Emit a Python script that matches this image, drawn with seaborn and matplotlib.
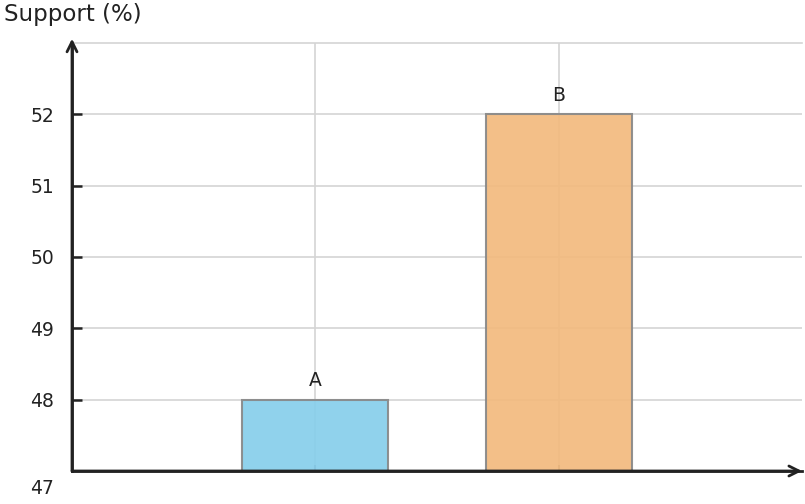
import matplotlib
matplotlib.use("Agg")
import matplotlib.pyplot as plt
import seaborn as sns
import pandas as pd

# chart data
categories = ["A", "B"]
support = [48, 52]
bar_colors = ["#87CEEB", "#F2BA7E"]
y_ticks = [48, 49, 50, 51, 52]

sns.set_theme(style="white")
plt.rcParams["font.family"] = ["DejaVu Sans"]

df = pd.DataFrame({"group": categories, "support": support})

fig = plt.figure(figsize=(8.05, 5.04), dpi=100)
ax = fig.add_axes([72 / 805, 33 / 504, 730 / 805, 428 / 504])

sns.barplot(
    data=df, x="group", y="support", hue="group", hue_order=categories,
    palette=bar_colors, saturation=1, width=0.6, alpha=0.92,
    edgecolor="#888888", linewidth=1.5, legend=False, ax=ax, zorder=2
)

ax.set_xlim(-1, 2)
ax.set_ylim(47, 53)
ax.set_yticks(y_ticks)
ax.set_xticks([0, 1])
ax.set_xticklabels(["", ""])
ax.set_xlabel("")
ax.set_ylabel("")

# grid behind the bars
ax.set_axisbelow(True)
ax.grid(True, color="#d4d4d4", linewidth=1.2)

for side in ["left", "bottom"]:
    ax.spines[side].set_color("#222222")
    ax.spines[side].set_linewidth(2)
ax.spines["top"].set_color("#d4d4d4")
ax.spines["top"].set_linewidth(1.2)
ax.spines["right"].set_visible(False)

ax.tick_params(axis="y", left=True, direction="in", length=7, width=1.8, color="#222222",
               labelsize=13.5, labelcolor="#222222", pad=13)
ax.tick_params(axis="x", bottom=True, direction="in", length=4, width=1.5, color="#777777")

# axis arrows
ax.annotate("", xy=(0, 1.01), xytext=(0, 0), xycoords="axes fraction",
            arrowprops=dict(arrowstyle="->", color="#222222", lw=2,
                            mutation_scale=18, shrinkA=0, shrinkB=0))
ax.annotate("", xy=(1.0, 0), xytext=(0, 0), xycoords="axes fraction",
            arrowprops=dict(arrowstyle="->", color="#222222", lw=2,
                            mutation_scale=18, shrinkA=0, shrinkB=0))

# lowest value label sits under the x axis
ax.annotate("47", xy=(0, 47), xycoords=("axes fraction", "data"),
            xytext=(-13, -12.5), textcoords="offset points",
            ha="right", va="center", fontsize=13.5, color="#222222")

for cont, cat in zip(ax.containers, categories):
    ax.bar_label(cont, labels=[cat], padding=7, fontsize=13.5, color="#222222")

fig.text(4 / 805, 1 - 14 / 504, "Support (%)", ha="left", va="center",
         fontsize=16.5, color="#222222")

fig.savefig("out.png", dpi=100)
